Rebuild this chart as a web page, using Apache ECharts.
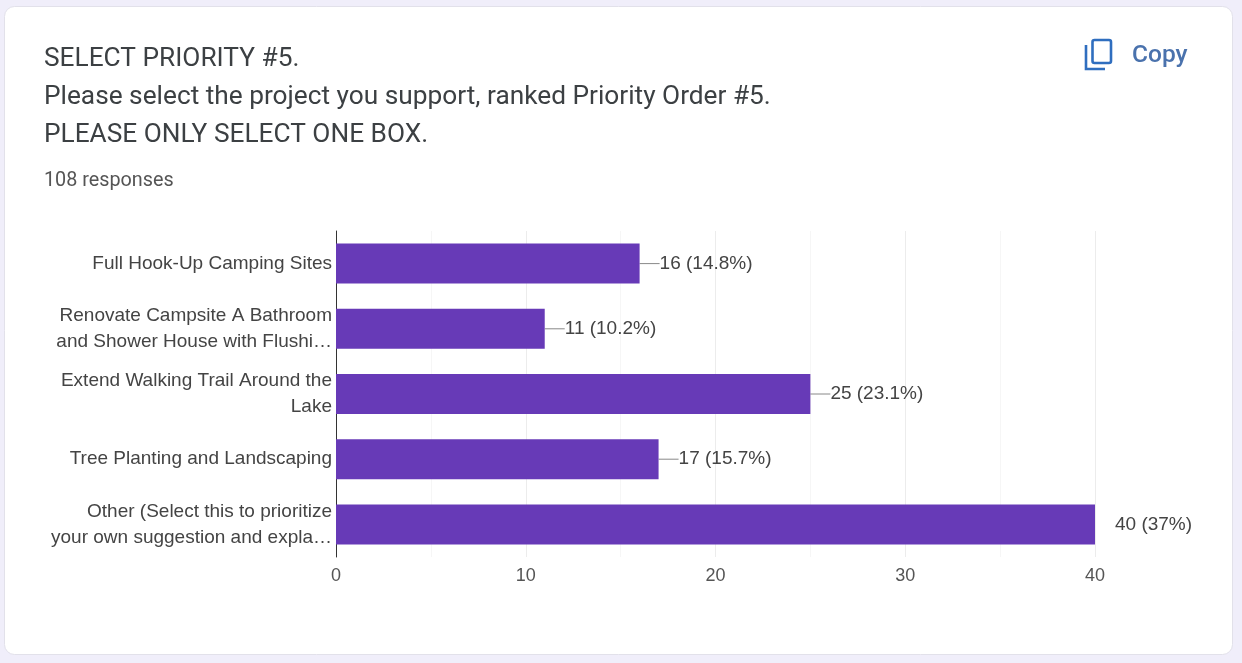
<!DOCTYPE html>
<html>
<head>
<meta charset="utf-8">
<script src="https://cdn.jsdelivr.net/npm/echarts@6/dist/echarts.min.js"></script>
<style>
html,body{margin:0;padding:0;background:#f0eefa;}
#chart{width:1242px;height:663px;}
</style>
</head>
<body>
<div id="chart"></div>
<script>
// Survey results: project support for priority rank #5
const categories = [
  'Full Hook-Up Camping Sites',
  'Renovate Campsite A Bathroom\nand Shower House with Flushi…',
  'Extend Walking Trail Around the\nLake',
  'Tree Planting and Landscaping',
  'Other (Select this to prioritize\nyour own suggestion and expla…'
];
const counts = [16, 11, 25, 17, 40];
const shares = ['14.8%', '10.2%', '23.1%', '15.7%', '37%'];
const headingLines = [
  'SELECT PRIORITY #5.',
  'Please select the project you support, ranked Priority Order #5.',
  'PLEASE ONLY SELECT ONE BOX.'
];
const responsesText = '108 responses';
const axisTicks = { min: 0, max: 40, interval: 10 };

const chart = echarts.init(document.getElementById('chart'), null, { renderer: 'canvas' });
const ink = '#3c4043';
const labelInk = '#444444';
const linkBlue = '#2f6ebf';

chart.setOption({
  animation: false,
  backgroundColor: '#f0eefa',
  grid: { left: 336, right: 147, top: 231, height: 326, containLabel: false },
  xAxis: {
    type: 'value',
    min: axisTicks.min,
    max: axisTicks.max,
    interval: axisTicks.interval,
    axisLine: { show: false },
    axisTick: { show: false },
    axisLabel: { color: '#555555', fontFamily: 'Liberation Sans', fontSize: 18, margin: 10 },
    splitLine: { show: true, lineStyle: { color: '#ececec', width: 1 } },
    minorTick: { show: false, splitNumber: 2 },
    minorSplitLine: { show: true, lineStyle: { color: '#f6f6f6', width: 1 } }
  },
  yAxis: {
    type: 'category',
    inverse: true,
    data: categories,
    axisLine: { show: true, lineStyle: { color: '#333333', width: 1 } },
    axisTick: { show: false },
    splitLine: { show: false },
    axisLabel: {
      color: labelInk,
      fontFamily: 'Liberation Sans',
      fontSize: 19,
      lineHeight: 26,
      margin: 4,
      align: 'right'
    }
  },
  series: [{
    type: 'bar',
    barWidth: 40,
    z: 3,
    itemStyle: { color: '#673ab7' },
    data: counts.map((v) => ({
      value: v,
      labelLine: { show: v < axisTicks.max }
    })),
    label: {
      show: true,
      position: 'right',
      distance: 20,
      color: labelInk,
      fontFamily: 'Liberation Sans',
      fontSize: 19,
      formatter: p => p.value + ' (' + shares[p.dataIndex] + ')'
    },
    labelLine: { show: true, lineStyle: { color: '#888888', width: 1 } },
    labelLayout: { moveOverlap: false }
  }],
  graphic: [
    // White card behind the heading and the plot
    {
      type: 'rect', z: -10, silent: true,
      shape: { x: 4.5, y: 6.5, width: 1228, height: 648, r: 10 },
      style: { fill: '#ffffff', stroke: '#e2e1ea', lineWidth: 1 }
    },
    ...headingLines.map((line, i) => ({
      type: 'text', z: 5, silent: true,
      x: 44, y: 59 + i * 38,
      style: { text: line, fill: ink, font: '400 26.25px Roboto', textVerticalAlign: 'middle' }
    })),
    {
      type: 'text', z: 5, silent: true,
      x: 44, y: 181,
      style: { text: responsesText, fill: '#555555', font: '400 19.8px Roboto', textVerticalAlign: 'middle' }
    },
    // Copy button: two overlapping sheets and its caption
    {
      type: 'rect', z: 5, silent: true,
      shape: { x: 1092.5, y: 40, width: 18.5, height: 23, r: 2 },
      style: { fill: 'none', stroke: linkBlue, lineWidth: 2.6 }
    },
    {
      type: 'polyline', z: 5, silent: true,
      shape: { points: [[1086, 45], [1086, 69], [1105, 69]] },
      style: { fill: 'none', stroke: linkBlue, lineWidth: 2.6 }
    },
    {
      type: 'text', z: 5, silent: true,
      x: 1132, y: 56,
      style: { text: 'Copy', fill: '#4a72ad', font: '500 24.5px Roboto', textVerticalAlign: 'middle' }
    }
  ]
});
</script>
</body>
</html>
